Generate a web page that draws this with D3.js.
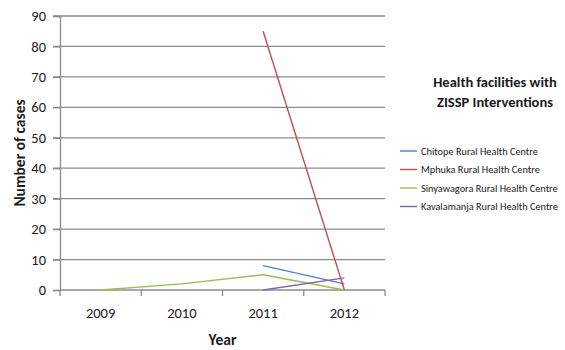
<!DOCTYPE html>
<html>
<head>
<meta charset="utf-8">
<script src="https://cdn.jsdelivr.net/npm/d3@7"></script>
<style>
  html, body { margin: 0; padding: 0; background: #fff; }
  svg { display: block; font-family: Carlito, Calibri, Lato, "Open Sans", sans-serif; }
</style>
</head>
<body>
<svg id="chart" width="565" height="350"></svg>
<script>
// Years on the category axis
const years = ["2009", "2010", "2011", "2012"];

// Reported cases per health facility (null = no report)
const chitope     = [null, null, 8, 2];
const mphuka      = [null, null, 85, 0];
const sinyawagora = [0, 2, 5, 0];
const kavalamanja = [null, null, 0, 4];

const seriesNames = [
  "Chitope Rural Health Centre",
  "Mphuka Rural Health Centre",
  "Sinyawagora Rural Health Centre",
  "Kavalamanja Rural Health Centre"
];
const seriesValues = [chitope, mphuka, sinyawagora, kavalamanja];
const seriesColors = ["#4F81BD", "#C0504D", "#9BBB59", "#8064A2"];

const yTicks = [0, 10, 20, 30, 40, 50, 60, 70, 80, 90];

const svg = d3.select("#chart");
const plot = { left: 60, right: 385, top: 16, bottom: 290 };

const x = d3.scaleBand().domain(years).range([plot.left, plot.right]);
const y = d3.scaleLinear().domain([0, 90]).range([plot.bottom, plot.top]);

// Horizontal gridlines with tick stubs on the left
svg.append("g")
  .selectAll("line")
  .data(yTicks.filter(d => d > 0))
  .join("line")
  .attr("x1", plot.left - 7)
  .attr("x2", plot.right)
  .attr("y1", d => y(d))
  .attr("y2", d => y(d))
  .attr("stroke", "#8c8c8c")
  .attr("stroke-width", 1.3);

// Value axis
const yAxis = svg.append("g")
  .attr("transform", `translate(${plot.left},0)`)
  .call(d3.axisLeft(y).tickValues(yTicks).tickSize(7).tickPadding(7));
yAxis.select(".domain").attr("stroke", "#8c8c8c").attr("stroke-width", 1.3);
yAxis.selectAll(".tick line").attr("stroke", "#8c8c8c").attr("stroke-width", 1.3);
yAxis.selectAll("text")
  .attr("fill", "#1a1a1a")
  .style("font-size", "14.5px")
  .style("font-family", "Carlito, Calibri, Lato, sans-serif");

// Category axis, tick marks between the year bands
const xAxis = svg.append("g")
  .attr("transform", `translate(0,${plot.bottom})`);
xAxis.append("line")
  .attr("x1", plot.left).attr("x2", plot.right)
  .attr("y1", 0).attr("y2", 0)
  .attr("stroke", "#8c8c8c").attr("stroke-width", 1.3);
const bounds = years.map(d => x(d)).concat([x(years[years.length - 1]) + x.bandwidth()]);
xAxis.selectAll("line.tk")
  .data(bounds)
  .join("line")
  .attr("class", "tk")
  .attr("x1", d => d).attr("x2", d => d)
  .attr("y1", 0).attr("y2", 6)
  .attr("stroke", "#8c8c8c").attr("stroke-width", 1.3);
xAxis.selectAll("text")
  .data(years)
  .join("text")
  .attr("x", d => x(d) + x.bandwidth() / 2)
  .attr("y", 28)
  .attr("text-anchor", "middle")
  .attr("fill", "#1a1a1a")
  .style("font-size", "14.5px")
  .text(d => d);

// Axis titles
svg.append("text")
  .attr("x", x(years[0]) + (plot.right - plot.left) / 2)
  .attr("y", 345)
  .attr("text-anchor", "middle")
  .attr("font-weight", "bold")
  .attr("fill", "#1a1a1a")
  .style("font-size", "15.5px")
  .text("Year");

svg.append("text")
  .attr("transform", "translate(25,153) rotate(-90)")
  .attr("text-anchor", "middle")
  .attr("font-weight", "bold")
  .attr("fill", "#1a1a1a")
  .style("font-size", "15.5px")
  .text("Number of cases");

// Series lines
const line = d3.line()
  .defined(d => d.v !== null)
  .x(d => x(d.year) + x.bandwidth() / 2)
  .y(d => y(d.v));

seriesValues.forEach((vals, i) => {
  svg.append("path")
    .datum(vals.map((v, j) => ({ year: years[j], v })))
    .attr("fill", "none")
    .attr("stroke", seriesColors[i])
    .attr("stroke-width", 1.4)
    .attr("d", line);
});

// Legend
const legend = svg.append("g");
legend.selectAll("text.title")
  .data(["Health facilities with", "ZISSP Interventions"])
  .join("text")
  .attr("class", "title")
  .attr("x", 495)
  .attr("y", (d, i) => 87 + i * 20)
  .attr("text-anchor", "middle")
  .attr("font-weight", "bold")
  .attr("fill", "#1a1a1a")
  .style("font-size", "14.5px")
  .text(d => d);

const items = legend.selectAll("g.item")
  .data(seriesNames)
  .join("g")
  .attr("class", "item")
  .attr("transform", (d, i) => `translate(400,${151 + i * 18.5})`);
items.append("line")
  .attr("x1", 0).attr("x2", 17)
  .attr("stroke", (d, i) => seriesColors[i])
  .attr("stroke-width", 1.4);
items.append("text")
  .attr("x", 21)
  .attr("y", 3.5)
  .attr("fill", "#1a1a1a")
  .style("font-size", "10.3px")
  .text(d => d);
</script>
</body>
</html>
